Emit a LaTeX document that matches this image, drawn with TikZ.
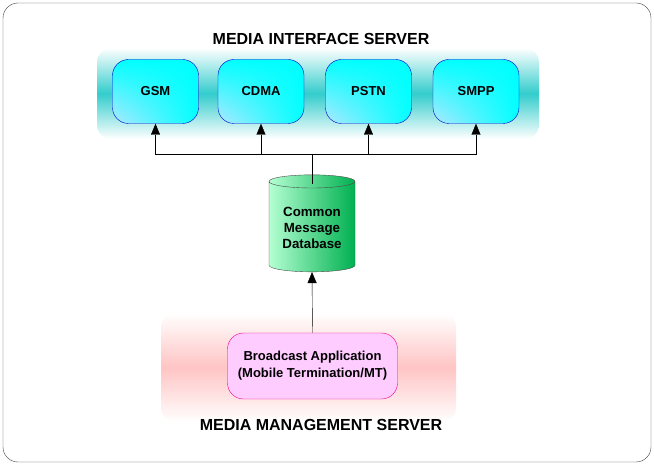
\documentclass[tikz,border=0pt]{standalone}
\usepackage{fontspec}
\setmainfont{Liberation Sans}
\usetikzlibrary{shapes.geometric,arrows.meta,shadings}
\definecolor{bandcyan}{HTML}{33CCCC}
\definecolor{boxcyan}{HTML}{00FFFF}
\definecolor{boxlight}{HTML}{B0E8FF}
\definecolor{dblight}{HTML}{B4FFD2}
\definecolor{dbdark}{HTML}{00B050}
\definecolor{bandpink}{HTML}{FFC4C4}
\definecolor{appfill}{HTML}{FFCCFF}
\begin{document}
\begin{tikzpicture}[x=1pt,y=-1pt,font=\bfseries,
    link/.style={-{Triangle[length=11pt,width=9pt]}},
    iface/.style={draw=blue!80!black,rounded corners=16pt,minimum width=86pt,
        minimum height=64pt,inner sep=0pt,lower left=boxlight,upper left=boxcyan,
        upper right=boxcyan,lower right=boxcyan,font=\bfseries\fontsize{13}{15}\selectfont},
    title/.style={font=\bfseries\fontsize{16}{18}\selectfont}]
    \useasboundingbox (0,0) rectangle (654,465);
    \draw[black!75,rounded corners=15pt] (3,3) rectangle (651,462);
    % server bands
    \shade[rounded corners=14pt,top color=white,bottom color=white,middle color=bandcyan]
        (97,48) rectangle (539,139);
    \shade[rounded corners=14pt,top color=white,bottom color=white,middle color=bandpink]
        (161,313) rectangle (456,422);
    \node[title] (mis) at (321,39) {MEDIA INTERFACE SERVER};
    \node[title] (mms) at (321,425) {MEDIA MANAGEMENT SERVER};
    % media interfaces
    \node[iface] (gsm) at (155.5,91.5) {GSM};
    \node[iface] (cdma) at (261,91.5) {CDMA};
    \node[iface] (pstn) at (368.5,91.5) {PSTN};
    \node[iface] (smpp) at (476,91.5) {SMPP};
    % database
    \node[cylinder,shape border rotate=90,aspect=0.2,draw=black!70,
        minimum width=86pt,minimum height=97pt,left color=dblight,right color=dbdark,
        align=center,font=\bfseries\fontsize{13.3}{16}\selectfont]
        (db) at (312,228) {Common\\Message\\Database};
    \node[draw=magenta,fill=appfill,rounded corners=16pt,minimum width=170pt,
        minimum height=66pt,align=center,font=\bfseries\fontsize{13}{17}\selectfont]
        (app) at (312.5,366) {Broadcast Application\\(Mobile Termination/MT)};
    \coordinate (hub) at (312,154);
    \draw ([yshift=-9pt]db.top) -- (hub);
    \draw[link] (hub) -| (gsm.south);
    \draw[link] (hub) -| (cdma.south);
    \draw[link] (hub) -| (pstn.south);
    \draw[link] (hub) -| (smpp.south);
    \draw[link] (app.north) -- (db.bottom);
\end{tikzpicture}
\end{document}
